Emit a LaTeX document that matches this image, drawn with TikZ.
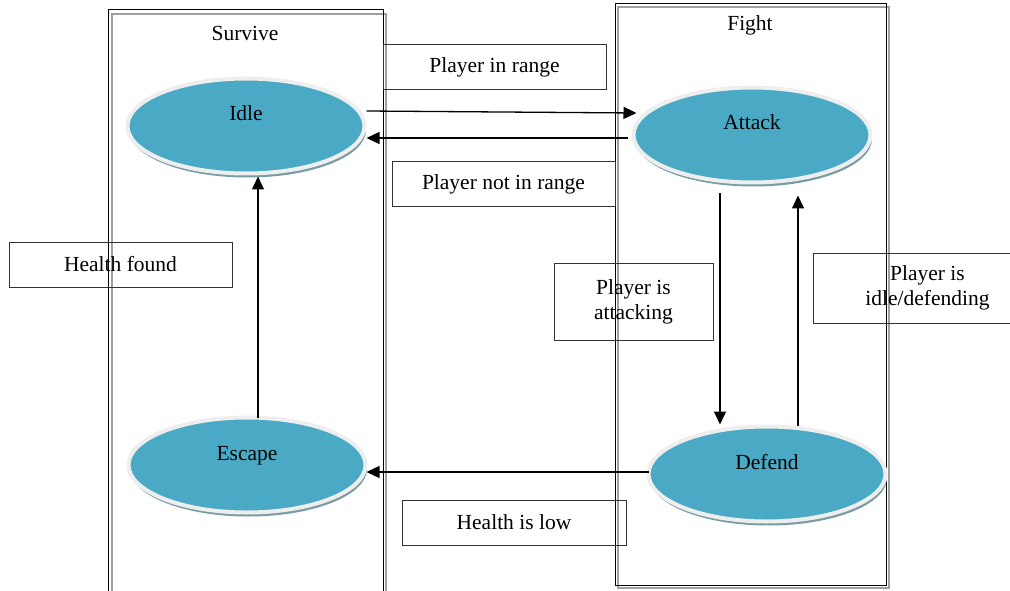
\documentclass[tikz,border=0pt]{standalone}
\usepackage{fontspec}
\setmainfont{Liberation Serif}
\usetikzlibrary{shapes.geometric,shadows,arrows.meta}
\definecolor{stateblue}{RGB}{74,170,197}
\definecolor{rimgray}{RGB}{238,238,238}
\definecolor{shadowcol}{RGB}{120,155,165}
\definecolor{framegray}{RGB}{160,160,160}
\begin{document}
\begin{tikzpicture}[x=1pt,y=-1pt,
  every node/.style={font=\fontsize{21.5}{25}\selectfont},
  state/.style={ellipse, minimum width=237pt, minimum height=95pt, inner sep=0pt, outer sep=0pt,
    fill=stateblue, draw=rimgray, line width=4pt, text height=16pt, text depth=26pt,
    drop shadow={shadow xshift=1.5pt, shadow yshift=-4pt, fill=shadowcol, opacity=1}},
  lbl/.style={draw=black!80, line width=1pt, inner sep=0pt, align=center},
  conn/.style={line width=1.3pt, -{Triangle[length=13pt,width=12pt]}},
  frameblack/.style={draw=black, line width=1pt},
  framegrey/.style={draw=framegray, line width=1.3pt}]
\useasboundingbox (0,0) rectangle (1010,591);
\clip (0,0) rectangle (1010,591);
% frames
\draw[framegrey] (112,14) rectangle (386,600);
\draw[frameblack] (108,10) rectangle (383,600);
\draw[framegrey] (618,7) rectangle (889,588);
\draw[frameblack] (615,4) rectangle (886,585);
\node (survivetitle) at (245,33) {Survive};
\node (fighttitle) at (750,25) {Fight};
% states
\node[state] (idle) at (246,126) {Idle};
\node[state] (attack) at (752,135) {Attack};
\node[state] (escape) at (247,465) {Escape};
\node[state] (defend) at (767,474) {Defend};
% labels
\node[lbl, minimum width=223pt, minimum height=45pt] (linrange) at (494.5,67.5) {Player in range};
\node[lbl, minimum width=223pt, minimum height=45pt] (lnotrange) at (503.5,184.5) {Player not in range};
\node[lbl, minimum width=223pt, minimum height=45pt] (lhealthfound) at (120.5,264.5) {Health found};
\node[lbl, minimum width=159pt, minimum height=77pt] (lattacking) at (633.5,301.5) {Player is\\attacking};
\node[lbl, minimum width=229pt, minimum height=70pt] (lidle) at (927.5,288) {Player is\\idle/defending};
\node[lbl, minimum width=224pt, minimum height=45pt] (lhealthlow) at (514,522.5) {Health is low};
% connectors
\draw[conn] ([xshift=2pt,yshift=15pt]idle.east) -- ([xshift=3pt,yshift=22pt]attack.west);
\draw[conn] ([xshift=-6pt,yshift=-3pt]attack.west) -- ([xshift=2pt,yshift=-12pt]idle.east);
\draw[conn] ([xshift=-32pt,yshift=-11pt]attack.south) -- ([xshift=-47pt,yshift=2pt]defend.north);
\draw[conn] ([xshift=31pt,yshift=1pt]defend.north) -- ([xshift=46pt,yshift=-13pt]attack.south);
\draw[conn] ([yshift=2pt]defend.west) -- ([xshift=1pt,yshift=-7pt]escape.east);
\draw[conn] ([xshift=11pt]escape.north) -- ([xshift=12pt,yshift=-3pt]idle.south);
\end{tikzpicture}
\end{document}
